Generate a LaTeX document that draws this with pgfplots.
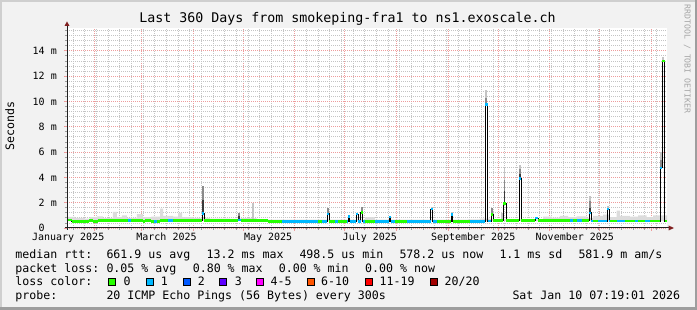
\documentclass[border=0pt]{standalone}
\usepackage{pgfplots}
\pgfplotsset{compat=1.18}
\usepackage{fontspec}
\setmainfont{DejaVu Sans Mono}
\setmonofont{DejaVu Sans Mono}
\definecolor{bgc}{HTML}{F2F2F2}
\definecolor{shadea}{HTML}{CFCFCF}
\definecolor{shadeb}{HTML}{9E9E9E}
\definecolor{gridc}{HTML}{C4C4C4}
\definecolor{mgridc}{HTML}{EE9C9C}
\definecolor{axisc}{HTML}{1F1F1F}
\definecolor{arrowc}{HTML}{801F1F}
\definecolor{lc0}{HTML}{26FF00}
\definecolor{lc1}{HTML}{00B8FF}
\definecolor{lc2}{HTML}{0059FF}
\definecolor{lc3}{HTML}{5E00FF}
\definecolor{lc4}{HTML}{FF00FF}
\definecolor{lc6}{HTML}{FF5500}
\definecolor{lc11}{HTML}{FF0000}
\definecolor{lc20}{HTML}{A10000}
\definecolor{smokeL}{HTML}{DCDCDC}
\definecolor{smokeA}{HTML}{3A3A3A}
\definecolor{smokeB}{HTML}{8A8A8A}
\definecolor{smokeC}{HTML}{C4C4C4}
\newcommand\lgf{\fontsize{11.6}{14}\selectfont}
\newcommand\axf{\fontsize{10}{12}\selectfont}
\begin{document}
\begin{tikzpicture}
\fill[bgc] (0pt,0pt) rectangle (697pt,310pt);
\fill[shadea] (0pt,0pt) rectangle (2pt,310pt);
\fill[shadea] (0pt,308pt) rectangle (697pt,310pt);
\fill[shadeb] (694.5pt,0pt) rectangle (697pt,310pt);
\fill[shadeb] (0pt,0pt) rectangle (697pt,2.5pt);
\begin{axis}[
  at={(67pt,82pt)}, anchor=south west, scale only axis,
  width=600pt, height=200pt,
  xmin=14.3, xmax=374.3, ymin=0, ymax=15.8,
  axis background/.style={fill=white},
  axis line style={draw=none},
  tick pos=left, tick align=outside,
  major tick length=3pt, minor tick length=2pt,
  every major tick/.append style={mgridc, line width=0.8pt},
  every minor tick/.append style={gridc!80!black, line width=0.8pt},
  grid=both,
  major grid style={mgridc, dash pattern=on 1pt off 1pt, line width=0.8pt},
  minor grid style={gridc, dash pattern=on 1pt off 1pt, line width=0.8pt},
  xtick={31,59,90,120,151,181,212,243,273,304,334,365},
  xticklabels={},
  minor xtick={18,25,...,368},
  extra x ticks={15,74,135,196,258,319},
  extra x tick labels={January 2025,March 2025,May 2025,July 2025,September 2025,November 2025},
  extra x tick style={grid=none, major tick length=0pt},
  xticklabel style={font=\axf, anchor=base, inner sep=0pt, yshift=-12.4pt},
  ytick={0,2,4,6,8,10,12,14},
  yticklabels={0\hphantom{00},2 m,4 m,6 m,8 m,10 m,12 m,14 m},
  minor ytick={0.4,0.8,1.2,1.6,2.4,2.8,3.2,3.6,4.4,4.8,5.2,5.6,6.4,6.8,7.2,7.6,8.4,8.8,9.2,9.6,10.4,10.8,11.2,11.6,12.4,12.8,13.2,13.6,14.4,14.8,15.2,15.6},
  yticklabel style={font=\axf, anchor=east, inner sep=0pt, xshift=-7pt},
  unbounded coords=jump,
]
% light smoke (upper edge left to right, then back along the lower edge)
\addplot[const plot, fill=smokeL, draw=none, forget plot] coordinates {
(14.3,0.87) (19.1,0.80) (25,0.75) (28,0.85) (32.3,0.92) (35.9,0.78) (41.9,1.27) (44.3,0.85) (47.3,0.99) (50.3,0.80) (56.3,1.10) (59.9,0.85) (65,0.90) (70.1,1.53) (71.9,0.95) (78,0.90) (80.9,1.19) (83.3,0.85) (90,0.80) (100,0.75) (112,0.72) (118.5,0.78) (128,0.70) (135,0.66) (193.1,0.85) (199,0.66) (255,0.68) (262,0.74) (268,0.70) (290,0.68) (299.9,0.90) (305,0.82) (310,0.95) (315,0.85) (320,0.92) (326,0.80) (330,0.95) (336,1.05) (340,0.85) (344,1.37) (346,0.95) (352,0.90) (357,1.00) (362,0.85) (366,1.00) (374.3,1.00) (374.3,0.55) (14.3,0.55)};
% spike smoke, light part
\addplot[smokeC, line width=1.8pt, forget plot] coordinates {
(125.9,0.6) (125.9,2.0) (125.9,nan)
(233.1,1.5) (233.1,1.66) (233.1,nan)
(245.1,1.05) (245.1,1.25) (245.1,nan)
(265.9,10.3) (265.9,10.87) (265.9,nan)
(275.1,0.6) (275.1,1.2) (275.1,nan)
(276.8,3.8) (276.8,4.75) (276.8,nan)
(286.1,4.7) (286.1,5.0) (286.1,nan)
(328.1,2.1) (328.1,2.5) (328.1,nan)
(338.9,1.5) (338.9,1.7) (338.9,nan)
(370.7,5.4) (370.7,6.0) (370.7,nan)
(371.9,13.2) (371.9,13.5)};
% spike smoke, middle part
\addplot[smokeB, line width=1.8pt, forget plot] coordinates {
(95.9,2.2) (95.9,3.3) (95.9,nan)
(117.7,0.92) (117.7,1.2) (117.7,nan)
(170.9,1.12) (170.9,1.6) (170.9,nan)
(191.1,1.24) (191.1,1.66) (191.1,nan)
(265.9,9.76) (265.9,10.3) (265.9,nan)
(269.1,1.05) (269.1,1.6) (269.1,nan)
(276.8,2.9) (276.8,3.8) (276.8,nan)
(286.1,4.3) (286.1,4.7) (286.1,nan)
(328.1,1.6) (328.1,2.1) (328.1,nan)
(370.7,4.75) (370.7,5.4)};
% spike smoke, dark part
\addplot[smokeA, line width=1.8pt, forget plot] coordinates {
(95.9,1.15) (95.9,2.2) (95.9,nan)
(117.7,0.62) (117.7,0.92) (117.7,nan)
(276.8,1.92) (276.8,2.9) (276.8,nan)
(286.1,3.9) (286.1,4.3) (286.1,nan)
(328.1,1.19) (328.1,1.6)};
% median rtt (black line)
\addplot[black, line width=1pt, const plot, forget plot] coordinates {
(14.3,0.62) (17.3,0.52) (27.5,0.60) (29.9,0.52) (32.7,0.60) (59.9,0.52) (61.1,0.60) (64.7,0.52) (70.1,0.60) (95.3,1.15) (96.5,0.60) (116.9,0.62) (118.5,0.60) (135.1,0.50) (170.3,1.12) (171.5,0.50) (182.9,0.90) (183.8,0.50) (187.7,1.10) (189.1,0.50) (190.5,1.24) (191.7,0.50) (207.7,0.88) (208.5,0.50) (232.5,1.50) (233.7,0.50) (244.7,1.05) (245.6,0.50) (265.1,9.76) (266.7,0.55) (268.7,1.05) (269.9,0.60) (275.9,1.92) (277.7,0.60) (285.5,3.90) (286.7,0.60) (295.1,0.78) (296.9,0.60) (327.5,1.19) (328.7,0.55) (338.3,1.50) (339.5,0.55) (370.1,4.75) (371.3,13.2) (372.8,0.55) (374.3,0.55)};
% loss colour band: 0 lost (green)
\addplot[lc0, line width=2.6pt, jump mark left, forget plot] coordinates {
(14.3,0.62) (17.3,0.52) (27.5,0.60) (29.9,0.52) (32.7,0.60) (59.9,0.52) (61.1,0.60) (64.7,0.52) (70.1,0.60) (95.3,1.15) (96.5,0.60) (116.9,0.62) (118.5,0.60) (135.1,0.50) (170.3,1.12) (171.5,0.50) (182.9,0.90) (183.8,0.50) (187.7,1.10) (189.1,0.50) (190.5,1.24) (191.7,0.50) (207.7,0.88) (208.5,0.50) (232.5,1.50) (233.7,0.50) (244.7,1.05) (245.6,0.50) (265.1,9.76) (266.7,0.55) (268.7,1.05) (269.9,0.60) (275.9,1.92) (277.7,0.60) (285.5,3.90) (286.7,0.60) (295.1,0.78) (296.9,0.60) (327.5,1.19) (328.7,0.55) (338.3,1.50) (339.5,0.55) (370.1,4.75) (371.3,13.2) (372.8,0.55) (374.3,0.55)};
% loss colour band: 1 lost (blue)
\addplot[lc1, line width=2.6pt, forget plot] coordinates {
(51.1,0.60) (52.5,0.60) (52.5,nan)
(66.7,0.52) (68.1,0.52) (68.1,nan)
(75.1,0.60) (78.1,0.60) (78.1,nan)
(95.3,1.15) (96.5,1.15) (96.5,nan)
(116.9,0.62) (118.5,0.62) (118.5,nan)
(143.1,0.50) (165.1,0.50) (165.1,nan)
(167.1,0.50) (170.3,0.50) (170.3,nan)
(170.3,1.12) (171.5,1.12) (171.5,nan)
(175.1,0.50) (176.9,0.50) (176.9,nan)
(182.1,0.50) (182.9,0.50) (182.9,nan)
(182.9,0.90) (183.8,0.90) (183.8,nan)
(183.8,0.50) (187.7,0.50) (187.7,nan)
(187.7,1.10) (189.1,1.10) (189.1,nan)
(189.1,0.50) (190.5,0.50) (190.5,nan)
(191.7,0.50) (193.1,0.50) (193.1,nan)
(199.1,0.50) (207.7,0.50) (207.7,nan)
(207.7,0.88) (208.5,0.88) (208.5,nan)
(208.5,0.50) (211.1,0.50) (211.1,nan)
(218.1,0.50) (232.5,0.50) (232.5,nan)
(232.5,1.50) (233.7,1.50) (233.7,nan)
(233.7,0.50) (236.1,0.50) (236.1,nan)
(244.7,1.05) (245.6,1.05) (245.6,nan)
(256.1,0.50) (265.1,0.50) (265.1,nan)
(265.1,9.76) (266.7,9.76) (266.7,nan)
(266.7,0.55) (268.7,0.55) (268.7,nan)
(285.5,3.90) (286.7,3.90) (286.7,nan)
(295.1,0.78) (296.9,0.78) (296.9,nan)
(316.1,0.60) (317.9,0.60) (317.9,nan)
(320.3,0.60) (323.3,0.60) (323.3,nan)
(327.5,1.19) (328.7,1.19) (328.7,nan)
(328.7,0.55) (329.9,0.55) (329.9,nan)
(332.9,0.55) (338.3,0.55) (338.3,nan)
(338.3,1.50) (339.5,1.50) (339.5,nan)
(339.5,0.55) (340.1,0.55) (340.1,nan)
(344.3,0.55) (349.1,0.55) (349.1,nan)
(355.1,0.55) (356.9,0.55) (356.9,nan)
(361.1,0.55) (364.1,0.55) (364.1,nan)
(370.1,4.75) (371.3,4.75)};
\end{axis}
% axes with arrows
\draw[axisc, line width=1pt] (67pt,80pt) -- (67pt,284.5pt);
\fill[arrowc] (64.5pt,284pt) -- (69.5pt,284pt) -- (67pt,288.5pt) -- cycle;
\draw[axisc, line width=1pt] (65pt,82pt) -- (668.5pt,82pt);
\fill[arrowc] (668.5pt,79.5pt) -- (668.5pt,84.5pt) -- (674pt,82pt) -- cycle;
% title, labels
\node[anchor=base, inner sep=0pt, font=\fontsize{13.3}{16}\selectfont] at (347.5pt,287pt) {Last 360 Days from smokeping-fra1 to ns1.exoscale.ch};
\node[rotate=90, anchor=base, inner sep=0pt, font=\lgf] at (14pt,183.7pt) {Seconds};
\node[rotate=-90, anchor=base, inner sep=0pt, font=\fontsize{8.2}{10}\selectfont, text=black!35] at (684.5pt,251pt) {RRDTOOL / TOBI OETIKER};
\begin{scope}[every node/.style={anchor=base west, inner sep=0pt, font=\lgf}]
\node at (15.3pt,51.7pt) {median rtt:};
\node at (106.3pt,51.7pt) {661.9 us avg};
\node at (206.5pt,51.7pt) {13.2 ms max};
\node at (299.3pt,51.7pt) {498.5 us min};
\node at (399.3pt,51.7pt) {578.2 us now};
\node at (499.3pt,51.7pt) {1.1 ms sd};
\node at (578.3pt,51.7pt) {581.9 m am/s};
\node at (15.3pt,37.7pt) {packet loss:};
\node at (106.3pt,37.7pt) {0.05 \% avg};
\node at (192.6pt,37.7pt) {0.80 \% max};
\node at (278.6pt,37.7pt) {0.00 \% min};
\node at (365pt,37.7pt) {0.00 \% now};
\node at (15.3pt,24pt) {loss color:};
\node at (123.3pt,24pt) {0};
\node at (160.6pt,24pt) {1};
\node at (197.6pt,24pt) {2};
\node at (234.6pt,24pt) {3};
\node at (270.5pt,24pt) {4-5};
\node at (321pt,24pt) {6-10};
\node at (379.5pt,24pt) {11-19};
\node at (444.5pt,24pt) {20/20};
\node at (15.3pt,10.3pt) {probe:};
\node at (106.3pt,10.3pt) {20 ICMP Echo Pings (56 Bytes) every 300s};
\node at (512.3pt,10.3pt) {Sat Jan 10 07:19:01 2026};
\end{scope}
\foreach \bx/\bc in {108.3/lc0,145.7/lc1,182.7/lc2,219.3/lc3,256.2/lc4,306.7/lc6,365.2/lc11,430.2/lc20}{
  \filldraw[fill=\bc, draw=black, line width=1pt] (\bx pt+0.5pt,24.5pt) rectangle (\bx pt+7.5pt,31.5pt);
}
\pgfresetboundingbox
\path[use as bounding box] (0pt,0pt) rectangle (697pt,310pt);
\end{tikzpicture}
\end{document}
